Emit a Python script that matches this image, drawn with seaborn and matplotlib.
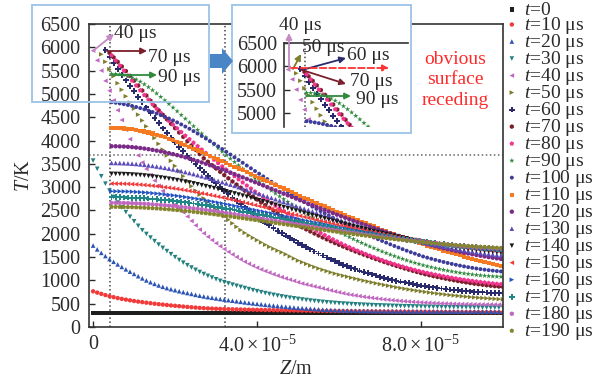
import numpy as np
import matplotlib
matplotlib.use('Agg')
import matplotlib.pyplot as plt
import seaborn as sns
from matplotlib.patches import Rectangle, Polygon, FancyArrowPatch

# ---------------- data (Z in micrometres, T in K) ----------------
TIMES_US = [0, 10, 20, 30, 40, 50, 60, 70, 80, 90, 100, 110, 120, 130, 140, 150, 160, 170, 180, 190]
Z_START_UM = [0, 0, 0, 0, 0, 2, 3, 4, 4.5, 4.5, 4.5, 4.5, 4.5, 4.5, 4.5, 4.5, 4.5, 4.5, 4.5, 4.5]
Z_STEP_UM = 1.0

T0 = [300, 300, 300, 300, 300, 300, 300, 300, 300, 300, 300, 300, 300, 300, 300, 300, 300, 300, 300, 300,
      300, 300, 300, 300, 300, 300, 300, 300, 300, 300, 300, 300, 300, 300, 300, 300, 300, 300, 300, 300,
      300, 300, 300, 300, 300, 300, 300, 300, 300, 300, 300, 300, 300, 300, 300, 300, 300, 300, 300, 300,
      300, 300, 300, 300, 300, 300, 300, 300, 300, 300, 300, 300, 300, 300, 300, 300, 300, 300, 300, 300,
      300, 300, 300, 300, 300, 300, 300, 300, 300, 300, 300, 300, 300, 300, 300, 300, 300, 300, 300, 300, 300]
T10 = [766, 738, 711, 685, 660, 640, 620, 603, 588, 572, 558, 545, 533, 522, 511, 500, 490, 481, 472, 463,
       455, 447, 439, 431, 424, 417, 410, 404, 399, 395, 391, 388, 385, 382, 380, 378, 376, 374, 372, 370,
       368, 366, 365, 363, 362, 360, 359, 357, 356, 354, 353, 352, 351, 350, 348, 347, 346, 345, 344, 343,
       342, 341, 340, 339, 338, 337, 336, 335, 335, 334, 333, 332, 332, 331, 330, 330, 329, 328, 328, 327,
       326, 326, 325, 325, 324, 323, 323, 322, 322, 321, 320, 320, 319, 319, 318, 318, 317, 317, 316, 316, 316]
T20 = [1747, 1665, 1590, 1522, 1458, 1399, 1343, 1289, 1237, 1187, 1139, 1090, 1043, 999, 960, 925, 892, 862, 835, 811,
       790, 768, 748, 729, 710, 690, 672, 656, 641, 627, 613, 600, 588, 576, 564, 552, 540, 528, 517, 507,
       497, 487, 477, 468, 459, 450, 442, 434, 426, 418, 410, 404, 398, 392, 386, 379, 373, 369, 366, 362,
       358, 355, 352, 350, 348, 346, 345, 344, 343, 342, 341, 340, 339, 338, 338, 337, 337, 336, 336, 335,
       335, 334, 334, 333, 333, 333, 332, 332, 332, 331, 331, 331, 330, 330, 330, 330, 329, 329, 329, 329, 328]
T30 = [3570, 3393, 3234, 3075, 2925, 2790, 2670, 2565, 2465, 2365, 2268, 2170, 2075, 1995, 1918, 1842, 1768, 1697, 1628, 1562,
       1498, 1437, 1380, 1326, 1275, 1226, 1180, 1137, 1097, 1060, 1024, 990, 962, 935, 909, 884, 860, 836, 813, 790,
       768, 747, 727, 708, 690, 673, 657, 642, 628, 615, 602, 590, 579, 568, 558, 548, 539, 531, 523, 516,
       509, 503, 497, 492, 487, 482, 478, 474, 470, 466, 463, 460, 457, 454, 451, 448, 446, 444, 442, 440,
       438, 436, 434, 432, 431, 429, 428, 426, 425, 424, 423, 422, 421, 420, 419, 418, 417, 416, 416, 415, 415]
T40 = [5930, 5720, 5500, 5280, 5070, 4860, 4650, 4440, 4230, 4030, 3850, 3680, 3530, 3390, 3260, 3140, 3030, 2920, 2820, 2720,
       2630, 2545, 2460, 2370, 2275, 2180, 2090, 2010, 1935, 1865, 1797, 1732, 1672, 1612, 1556, 1502, 1450, 1400, 1355, 1312,
       1272, 1235, 1200, 1166, 1133, 1101, 1070, 1042, 1015, 990, 960, 933, 912, 891, 870, 850, 828, 806, 785, 764,
       744, 724, 705, 690, 676, 662, 649, 637, 625, 614, 603, 593, 584, 575, 567, 559, 552, 545, 539, 533,
       528, 523, 518, 514, 510, 506, 503, 500, 497, 494, 492, 490, 488, 486, 485, 484, 483, 482, 481, 480, 480]
T50 = [5850, 5690, 5530, 5380, 5230, 5090, 4950, 4815, 4685, 4555, 4430, 4305, 4180, 4055, 3930, 3805, 3680, 3565,
       3455, 3345, 3235, 3125, 3020, 2925, 2840, 2760, 2680, 2600, 2525, 2450, 2376, 2300, 2225, 2150, 2080, 2020, 1965, 1915,
       1865, 1815, 1765, 1720, 1680, 1640, 1602, 1560, 1515, 1470, 1425, 1390, 1355, 1320, 1288, 1256, 1228, 1200, 1172, 1146,
       1122, 1100, 1080, 1058, 1037, 1016, 996, 976, 957, 938, 920, 902, 885, 868, 852, 836, 821, 806, 792, 778,
       765, 752, 740, 728, 717, 706, 696, 686, 677, 668, 659, 651, 643, 636, 629, 622, 616, 610, 604, 598, 593]
T60 = [5940, 5800, 5665, 5535, 5410, 5290, 5172, 5055, 4940, 4825, 4710, 4597, 4485, 4372, 4260, 4157, 4056,
       3958, 3862, 3768, 3675, 3585, 3497, 3410, 3325, 3242, 3160, 3080, 3002, 2925, 2850, 2777, 2705, 2635, 2566, 2498, 2431,
       2365, 2302, 2240, 2180, 2122, 2066, 2012, 1960, 1908, 1858, 1808, 1760, 1712, 1665, 1620, 1576, 1533, 1491, 1450, 1411,
       1373, 1337, 1303, 1271, 1240, 1210, 1182, 1155, 1129, 1104, 1080, 1057, 1035, 1014, 994, 975, 956, 938, 921, 905,
       889, 874, 861, 849, 837, 826, 815, 805, 796, 787, 779, 771, 764, 757, 751, 745, 740, 735, 731, 727, 724]
T70 = [5880, 5785, 5688, 5590, 5490, 5388, 5285, 5180, 5073, 4965, 4855, 4745, 4648, 4552, 4456, 4361,
       4266, 4172, 4079, 3986, 3894, 3802, 3711, 3620, 3545, 3472, 3400, 3329, 3259, 3190, 3122, 3055, 2989, 2924, 2860, 2797,
       2735, 2674, 2614, 2555, 2497, 2440, 2384, 2329, 2280, 2232, 2185, 2139, 2094, 2050, 2006, 1963, 1921, 1880, 1840, 1801,
       1763, 1726, 1690, 1655, 1620, 1586, 1553, 1520, 1488, 1457, 1426, 1396, 1367, 1338, 1310, 1283, 1256, 1230, 1205, 1180,
       1156, 1133, 1112, 1092, 1073, 1055, 1037, 1020, 1003, 987, 972, 957, 943, 930, 918, 906, 895, 885, 876, 868, 860]
T80 = [5830, 5720, 5610, 5500, 5392, 5285, 5180, 5077, 4976, 4877, 4780, 4686, 4595, 4507, 4422, 4340, 4260,
       4182, 4105, 4029, 3954, 3880, 3806, 3733, 3660, 3588, 3516, 3445, 3375, 3305, 3236, 3168, 3101, 3035, 2970, 2906, 2843,
       2781, 2720, 2660, 2601, 2543, 2486, 2430, 2375, 2321, 2268, 2216, 2165, 2115, 2066, 2018, 1971, 1925, 1880, 1836, 1793,
       1751, 1712, 1674, 1637, 1601, 1566, 1532, 1499, 1467, 1436, 1406, 1377, 1349, 1322, 1296, 1271, 1247, 1224, 1202, 1181,
       1161, 1142, 1124, 1106, 1089, 1073, 1057, 1042, 1028, 1014, 1001, 989, 977, 966, 955, 945, 935, 926, 918]
T90 = [5432, 5428, 5420, 5405, 5382, 5350, 5310, 5262, 5207, 5146, 5080, 5010, 4937, 4862, 4785, 4707, 4628,
       4548, 4468, 4388, 4308, 4228, 4149, 4070, 3992, 3914, 3837, 3761, 3686, 3612, 3539, 3467, 3396, 3326, 3257, 3189, 3122,
       3056, 2991, 2927, 2865, 2804, 2744, 2685, 2627, 2570, 2514, 2459, 2405, 2352, 2300, 2250, 2201, 2153, 2106, 2060, 2015,
       1971, 1928, 1886, 1845, 1805, 1766, 1728, 1691, 1655, 1620, 1586, 1553, 1521, 1490, 1460, 1431, 1403, 1376, 1350, 1325,
       1303, 1282, 1262, 1243, 1225, 1208, 1192, 1177, 1163, 1150, 1138, 1127, 1117, 1108, 1100, 1093, 1087, 1082, 1078]
T100 = [4822, 4810, 4796, 4780, 4762, 4742, 4720, 4696, 4670, 4642, 4612, 4580, 4546, 4510, 4472, 4432, 4390,
        4346, 4300, 4252, 4202, 4150, 4097, 4043, 3988, 3932, 3875, 3817, 3759, 3700, 3641, 3582, 3523, 3464, 3405, 3346, 3288,
        3230, 3173, 3116, 3060, 3004, 2949, 2895, 2841, 2788, 2736, 2684, 2633, 2583, 2534, 2485, 2437, 2390, 2344, 2298, 2253,
        2209, 2166, 2123, 2081, 2040, 2000, 1960, 1921, 1883, 1846, 1809, 1773, 1738, 1704, 1670, 1637, 1605, 1574, 1543, 1513,
        1488, 1464, 1440, 1417, 1395, 1374, 1354, 1335, 1317, 1300, 1284, 1269, 1255, 1242, 1230, 1219, 1209, 1200, 1192]
T110 = [4272, 4270, 4266, 4260, 4252, 4241, 4228, 4212, 4194, 4173, 4150, 4125, 4098, 4069, 4038, 4005, 3971,
        3936, 3900, 3863, 3826, 3788, 3750, 3711, 3672, 3633, 3594, 3555, 3516, 3477, 3438, 3399, 3360, 3321, 3282, 3243, 3204,
        3165, 3126, 3087, 3048, 3009, 2970, 2931, 2892, 2853, 2814, 2775, 2737, 2699, 2661, 2623, 2585, 2548, 2511, 2474, 2437,
        2401, 2365, 2329, 2294, 2259, 2224, 2190, 2156, 2122, 2089, 2056, 2023, 1991, 1959, 1928, 1897, 1866, 1836, 1806, 1777,
        1748, 1720, 1692, 1665, 1638, 1612, 1586, 1561, 1536, 1512, 1488, 1465, 1442, 1420, 1398, 1377, 1356, 1336, 1316]
T120 = [3878, 3877, 3874, 3871, 3866, 3859, 3850, 3840, 3828, 3815, 3800, 3784, 3767, 3749, 3729, 3709, 3687,
        3664, 3639, 3614, 3587, 3559, 3531, 3502, 3471, 3441, 3409, 3378, 3345, 3312, 3279, 3245, 3211, 3177, 3143, 3107, 3072,
        3037, 3001, 2966, 2931, 2895, 2860, 2825, 2790, 2754, 2719, 2684, 2648, 2613, 2579, 2545, 2511, 2477, 2443, 2410, 2377,
        2344, 2311, 2279, 2248, 2216, 2186, 2155, 2125, 2096, 2066, 2037, 2009, 1981, 1954, 1928, 1901, 1875, 1850, 1825, 1801,
        1778, 1755, 1733, 1711, 1690, 1670, 1650, 1631, 1612, 1594, 1577, 1560, 1544, 1528, 1514, 1499, 1486, 1473, 1460]
T130 = [3520, 3519, 3517, 3514, 3510, 3504, 3497, 3489, 3479, 3468, 3456, 3443, 3429, 3414, 3398, 3381, 3363,
        3344, 3324, 3303, 3281, 3258, 3235, 3211, 3186, 3161, 3135, 3109, 3082, 3055, 3028, 3000, 2972, 2944, 2916, 2887, 2858,
        2829, 2800, 2771, 2742, 2713, 2684, 2655, 2626, 2597, 2568, 2539, 2510, 2481, 2453, 2425, 2397, 2369, 2341, 2314, 2287,
        2260, 2233, 2207, 2181, 2155, 2130, 2105, 2080, 2056, 2032, 2008, 1985, 1962, 1940, 1918, 1896, 1875, 1854, 1834, 1814,
        1795, 1776, 1758, 1740, 1723, 1706, 1690, 1674, 1659, 1644, 1630, 1616, 1603, 1590, 1578, 1566, 1555, 1544, 1534]
T140 = [3285, 3284, 3282, 3280, 3276, 3271, 3265, 3259, 3250, 3241, 3230, 3219, 3207, 3195, 3181, 3166, 3151,
        3135, 3118, 3100, 3081, 3062, 3042, 3021, 3000, 2979, 2957, 2934, 2911, 2888, 2865, 2841, 2818, 2794, 2770, 2745, 2720,
        2696, 2671, 2646, 2621, 2597, 2572, 2547, 2522, 2498, 2473, 2448, 2423, 2399, 2375, 2351, 2327, 2303, 2279, 2256, 2233,
        2210, 2187, 2165, 2143, 2121, 2099, 2078, 2057, 2036, 2016, 1995, 1976, 1956, 1937, 1918, 1900, 1882, 1864, 1847, 1830,
        1814, 1797, 1782, 1767, 1752, 1738, 1724, 1710, 1697, 1685, 1673, 1661, 1650, 1639, 1628, 1618, 1609, 1600, 1591]
T150 = [3077, 3076, 3075, 3073, 3070, 3065, 3060, 3054, 3047, 3039, 3030, 3021, 3011, 3000, 2988, 2976, 2963,
        2949, 2934, 2919, 2903, 2886, 2869, 2852, 2834, 2815, 2796, 2778, 2758, 2738, 2719, 2698, 2678, 2657, 2637, 2616, 2595,
        2574, 2552, 2531, 2510, 2489, 2468, 2447, 2426, 2405, 2383, 2362, 2341, 2320, 2300, 2279, 2259, 2238, 2218, 2198, 2179,
        2159, 2139, 2120, 2101, 2082, 2064, 2046, 2028, 2010, 1993, 1975, 1959, 1942, 1926, 1910, 1894, 1878, 1863, 1849, 1834,
        1820, 1806, 1793, 1780, 1768, 1755, 1744, 1732, 1721, 1710, 1700, 1690, 1680, 1671, 1662, 1653, 1645, 1637, 1630]
T160 = [2912, 2911, 2910, 2908, 2906, 2902, 2897, 2892, 2886, 2879, 2871, 2863, 2854, 2845, 2834, 2824, 2812,
        2800, 2787, 2774, 2760, 2746, 2731, 2716, 2700, 2684, 2667, 2651, 2634, 2617, 2599, 2582, 2564, 2546, 2528, 2510, 2491,
        2473, 2455, 2436, 2418, 2399, 2381, 2362, 2344, 2326, 2307, 2289, 2270, 2252, 2234, 2216, 2198, 2181, 2163, 2146, 2129,
        2111, 2094, 2078, 2061, 2045, 2029, 2013, 1997, 1982, 1967, 1951, 1937, 1922, 1908, 1894, 1880, 1867, 1853, 1841, 1828,
        1816, 1804, 1792, 1781, 1770, 1759, 1749, 1739, 1729, 1720, 1711, 1702, 1694, 1686, 1678, 1671, 1664, 1657, 1650]
T170 = [2783, 2782, 2781, 2780, 2777, 2774, 2770, 2766, 2760, 2754, 2747, 2740, 2732, 2724, 2715, 2705, 2695,
        2684, 2673, 2661, 2649, 2636, 2623, 2610, 2596, 2582, 2567, 2553, 2538, 2522, 2507, 2492, 2476, 2460, 2445, 2428, 2412,
        2396, 2380, 2363, 2347, 2331, 2315, 2298, 2282, 2266, 2249, 2233, 2217, 2201, 2185, 2169, 2154, 2138, 2122, 2107, 2092,
        2077, 2062, 2047, 2033, 2018, 2004, 1990, 1976, 1963, 1949, 1936, 1923, 1910, 1898, 1885, 1873, 1861, 1849, 1838, 1827,
        1816, 1806, 1796, 1786, 1776, 1766, 1757, 1748, 1740, 1732, 1724, 1716, 1709, 1701, 1695, 1688, 1682, 1676, 1670]
T180 = [2663, 2663, 2662, 2660, 2658, 2655, 2652, 2648, 2643, 2637, 2631, 2625, 2618, 2611, 2603, 2595, 2586,
        2576, 2566, 2556, 2545, 2534, 2523, 2511, 2499, 2486, 2473, 2461, 2447, 2434, 2421, 2407, 2393, 2379, 2366, 2351, 2337,
        2323, 2308, 2294, 2280, 2266, 2251, 2237, 2223, 2208, 2194, 2180, 2166, 2151, 2138, 2124, 2110, 2096, 2082, 2069, 2056,
        2043, 2029, 2016, 2004, 1991, 1979, 1966, 1954, 1942, 1930, 1918, 1907, 1896, 1885, 1874, 1863, 1853, 1843, 1833, 1823,
        1814, 1804, 1795, 1787, 1778, 1770, 1762, 1754, 1747, 1739, 1732, 1725, 1719, 1713, 1707, 1701, 1696, 1690, 1685]
T190 = [2577, 2577, 2576, 2574, 2573, 2570, 2567, 2563, 2559, 2554, 2549, 2543, 2537, 2530, 2523, 2515, 2507,
        2499, 2490, 2481, 2471, 2461, 2450, 2440, 2429, 2418, 2406, 2395, 2383, 2371, 2359, 2346, 2334, 2321, 2309, 2296, 2283,
        2270, 2257, 2244, 2231, 2219, 2206, 2193, 2180, 2167, 2154, 2141, 2129, 2116, 2103, 2091, 2078, 2066, 2054, 2042, 2030,
        2018, 2006, 1994, 1982, 1971, 1960, 1949, 1938, 1927, 1916, 1906, 1896, 1885, 1875, 1866, 1856, 1847, 1837, 1828, 1820,
        1811, 1803, 1794, 1787, 1779, 1772, 1764, 1757, 1751, 1744, 1738, 1732, 1726, 1720, 1715, 1710, 1705, 1700, 1695]

SERIES = [T0, T10, T20, T30, T40, T50, T60, T70, T80, T90, T100, T110, T120, T130, T140, T150, T160, T170, T180, T190]
LABELS = [r'$t$=0'] + [r'$t$=%d μs' % t for t in TIMES_US[1:]]
COLORS = ['#1e1e1e', '#f23a3a', '#2c54b4', '#22807f', '#c067c0', '#7d7d2c', '#2a2a6e', '#7c1f2c', '#f2348e', '#2f8a3e',
          '#3c3c9a', '#f57a22', '#7a2b88', '#5a4bb8', '#1a1a1a', '#f23a3a', '#2353c2', '#1f8787', '#c067c0', '#85852e']
MARKERS = ['s', 'o', '^', 'v', '<', '>', 'P', 'h', 'p', '*', 'o', 's', 'o', '^', 'v', '<', '>', 'P', 'h', 'p']
SIZES = [9, 10, 11, 11, 11, 11, 17, 12, 12, 16, 8, 9, 10, 11, 11, 11, 11, 17, 12, 12]

MELT_T = 3695
ZLINE1 = 4.1e-6
ZLINE2 = 3.22e-5

# ---------------- style ----------------
sns.set_style('ticks')
plt.rcParams['font.family'] = ['Liberation Serif', 'DejaVu Serif']
plt.rcParams['mathtext.fontset'] = 'custom'
plt.rcParams['mathtext.rm'] = 'Liberation Serif'
plt.rcParams['mathtext.it'] = 'Liberation Serif:italic'
plt.rcParams['mathtext.bf'] = 'Liberation Serif:bold'
TXT = '#2a2a2a'

W, H = 616, 383
fig = plt.figure(figsize=(W / 100, H / 100), dpi=100)
fig.patch.set_facecolor('white')


def fpx(x, y):
    """figure pixel (top-left origin) -> inches for dpi_scale_trans"""
    return (x / 100.0, (H - y) / 100.0)


ax = fig.add_axes([89 / W, (H - 327) / H, 414 / W, 303 / H])
axi = fig.add_axes([284 / W, (H - 127) / H, 124 / W, 84 / H], zorder=3)

for a, with_label in ((ax, True), (axi, False)):
    for vals, z0, lab, col, mk, sz in zip(SERIES, Z_START_UM, LABELS, COLORS, MARKERS, SIZES):
        z = (z0 + np.arange(len(vals)) * Z_STEP_UM) * 1e-6
        kw = dict(label=lab) if with_label else {}
        sns.scatterplot(x=z, y=vals, ax=a, marker=mk, color=col, s=sz, linewidth=0,
                        edgecolor='none', zorder=2, **kw)

# main axes
ax.set_xlim(-1e-6, 1e-4)
ax.set_ylim(0, 6500)
ax.set_yticks(np.arange(0, 6501, 500))
ax.set_xticks([0, 4e-5, 8e-5])
ax.set_xticklabels(['0', r'$4.0\times10^{-5}$', r'$8.0\times10^{-5}$'])
ax.tick_params(direction='in', length=4, width=1, labelsize=14.5, pad=6, colors=TXT,
               top=False, right=False)
for s in ax.spines.values():
    s.set_color('#333333')
    s.set_linewidth(1.2)
ax.set_ylabel(r'$T$/K', fontsize=14.5, color=TXT)
ax.set_xlabel(r'$Z$/m', fontsize=14.5, color=TXT)
ax.yaxis.set_label_coords((24 - 89) / 414, 0.5)
ax.yaxis.label.set_va('center')
ax.xaxis.set_label_coords(0.5, -(369 - 327) / 303)
ax.xaxis.label.set_va('center')
ax.axvline(ZLINE1, ls=':', color='#444444', lw=1.1, zorder=1)
ax.axvline(ZLINE2, ls=':', color='#444444', lw=1.1, zorder=1)
ax.axhline(MELT_T, ls=':', color='#666666', lw=1.1, zorder=1)

leg = ax.legend(loc='upper left', bbox_to_anchor=(506 / W, 1 - 1 / H), bbox_transform=fig.transFigure,
                frameon=False, fontsize=14, handlelength=0.6, handletextpad=0.35, labelspacing=-0.205,
                borderpad=0, borderaxespad=0, markerscale=1.0)
for t in leg.get_texts():
    t.set_color(TXT)

# inset axes
axi.set_xlim(-1e-6, -1e-6 + 124 / 4.1 * 1e-6)
axi.set_ylim(6500 - 84 * 6500 / 303, 6500)
axi.set_yticks([5000, 5500, 6000, 6500])
axi.set_xticks([])
axi.tick_params(direction='in', length=4, width=1, labelsize=14.5, pad=5, colors=TXT)
axi.spines['right'].set_visible(False)
axi.spines['bottom'].set_visible(False)
for s in ('left', 'top'):
    axi.spines[s].set_color('#333333')
    axi.spines[s].set_linewidth(1.2)
axi.set_facecolor('white')
axi.axvline(ZLINE1, ls=':', color='#444444', lw=1.1, zorder=1)

# blue boxes and block arrow
BOX = '#9cc3e6'
fig.add_artist(Rectangle(fpx(32, 102), 177 / 100, 97 / 100, transform=fig.dpi_scale_trans,
                         facecolor='none', edgecolor=BOX, lw=1.3, zorder=2))
fig.add_artist(Rectangle(fpx(232, 133), 179 / 100, 128 / 100, transform=fig.dpi_scale_trans,
                         facecolor='white', edgecolor=BOX, lw=1.3, zorder=2))
pts = [fpx(210, 54), fpx(222, 54), fpx(222, 48), fpx(233, 61), fpx(222, 74), fpx(222, 68), fpx(210, 68)]
fig.add_artist(Polygon(pts, closed=True, transform=fig.dpi_scale_trans, facecolor='#4a86c6',
                       edgecolor='none', zorder=4))


def arrow(p0, p1, color, ls='-'):
    fig.add_artist(FancyArrowPatch(fpx(*p0), fpx(*p1), transform=fig.dpi_scale_trans,
                                   arrowstyle='-|>', mutation_scale=9, color=color, lw=1.3,
                                   linestyle=ls, shrinkA=0, shrinkB=0, zorder=5))


def label(x, y, s, color=TXT, ha='left'):
    fig.text(x / W, 1 - y / H, s, ha=ha, va='center', fontsize=14, color=color, zorder=6)


# annotations on main plot
arrow((93, 51), (114, 34), '#c38ac3')
label(114, 34, '40 μs')
arrow((107, 51), (147, 51), '#7c1f2c')
label(148, 57, '70 μs')
arrow((112, 75), (157, 75), '#2f8a3e')
label(158, 77, '90 μs')

# annotations in inset
arrow((289, 70), (289, 33), '#c38ac3')
label(279, 25, '40 μs')
arrow((293, 69), (301, 54), '#7d7d2c')
label(302, 48, '50 μs')
arrow((302, 70), (346, 58), '#2a2a6e')
label(347, 55, '60 μs')
arrow((302, 70), (346, 84), '#7c1f2c')
label(350, 81, '70 μs')
arrow((306, 96), (351, 96), '#2f8a3e')
label(356, 99, '90 μs')
arrow((291, 68), (389, 68), '#ff3030', ls='--')
fig.text(455 / W, 1 - 80 / H, 'obvious\nsurface\nreceding', ha='center', va='center', fontsize=14,
         color='#ff2a2a', linespacing=1.3, zorder=6)

fig.savefig('out.png', dpi=100)
